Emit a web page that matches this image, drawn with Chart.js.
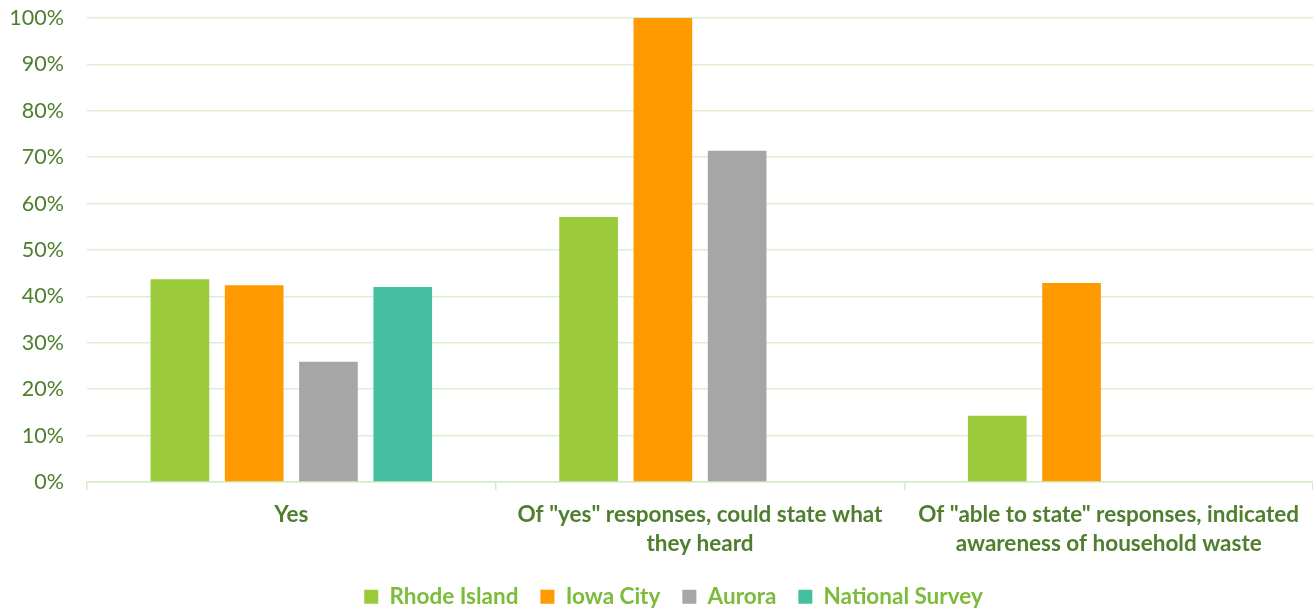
<!DOCTYPE html>
<html>
<head>
<meta charset="utf-8">
<script src="https://cdn.jsdelivr.net/npm/chart.js@4"></script>
<style>
  html, body { margin: 0; padding: 0; background: #fff; }
  #wrap { width: 1313px; height: 609px; position: relative; }
</style>
</head>
<body>
<div id="wrap"><canvas id="awarenessChart"></canvas></div>
<script>
const categories = [
    "Yes",
    ['Of "yes" responses, could state what', 'they heard'],
    ['Of "able to state" responses, indicated', 'awareness of household waste']
];
const rhodeIsland = [43.7, 57.1, 14.3];
const iowaCity = [42.4, 100, 42.9];
const aurora = [25.9, 71.4, null];
const nationalSurvey = [42.0, null, null];

const FONT = "Lato, 'Open Sans', sans-serif";

// nudge the legend row a little to the right of the canvas centre
const legendShift = {
    id: "legendShift",
    afterLayout(chart) {
        const lg = chart.legend;
        if (lg) {
            lg.left += 17;
            lg.right += 17;
        }
    }
};

new Chart(document.getElementById("awarenessChart").getContext("2d"), {
    type: "bar",
    data: {
        labels: categories,
        datasets: [
            { label: "Rhode Island", data: rhodeIsland, backgroundColor: "#9BCB3B" },
            { label: "Iowa City", data: iowaCity, backgroundColor: "#FF9A00" },
            { label: "Aurora", data: aurora, backgroundColor: "#A6A6A6" },
            { label: "National Survey", data: nationalSurvey, backgroundColor: "#44C0A0" }
        ]
    },
    plugins: [legendShift],
    options: {
        responsive: true,
        maintainAspectRatio: false,
        animation: false,
        categoryPercentage: 0.727,
        barPercentage: 0.79,
        layout: { padding: { top: 18, right: 0, left: 0, bottom: -9 } },
        plugins: {
            tooltip: { enabled: false },
            legend: {
                position: "bottom",
                labels: {
                    boxWidth: 14,
                    boxHeight: 14,
                    padding: 22,
                    color: "#7DBB3A",
                    font: { family: FONT, size: 22.5, weight: "bold" }
                }
            }
        },
        scales: {
            x: {
                afterFit: s => { s.height -= 5; },
                grid: {
                    offset: true,
                    drawOnChartArea: false,
                    color: "#D5EBC8",
                    tickLength: 8,
                    lineWidth: 1.5
                },
                border: { color: "#D5EBC8", width: 1.5 },
                ticks: {
                    color: "#4E7E2E",
                    maxRotation: 0,
                    autoSkip: false,
                    padding: 10,
                    font: { family: FONT, size: 22.5, weight: "bold", lineHeight: 1.3 }
                }
            },
            y: {
                min: 0,
                max: 100,
                afterFit: s => {
                    s.width = 87;
                    s.paddingTop = 0;
                    s.paddingBottom = 0;
                },
                grid: { color: "#DDEFD2", lineWidth: 1.5, drawTicks: false },
                border: { display: false },
                ticks: {
                    stepSize: 10,
                    padding: 23,
                    color: "#4E7E2E",
                    font: { family: FONT, size: 21.5 },
                    callback: v => v + "%"
                }
            }
        }
    }
});
</script>
</body>
</html>
